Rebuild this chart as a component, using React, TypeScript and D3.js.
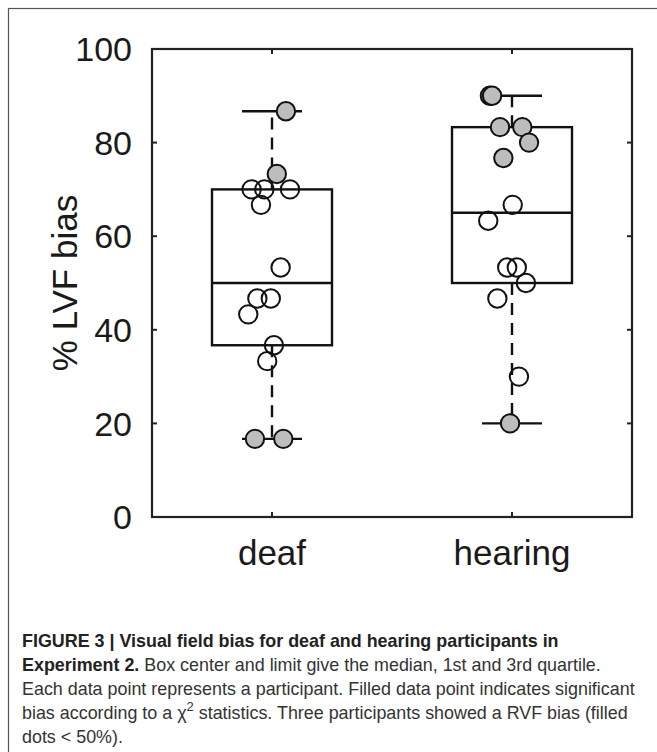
import React from "react";
import * as d3 from "d3";

const categories = ["deaf", "hearing"];
// box stats: [lower whisker, Q1, median, Q3, upper whisker]
const boxStats = [
  [16.7, 36.7, 50, 70, 86.7],
  [20, 50, 65, 83.3, 90],
];
// points: group index, x jitter offset (category units), value, filled (significant)
const pointGroup = [0,0,0,0,0,0,0,0,0,0,0,0,0,0, 1,1,1,1,1,1,1,1,1,1,1,1,1,1];
const pointJitter = [
  0.058, 0.02, -0.085, -0.032, 0.075, -0.046, 0.036, -0.061, -0.005, -0.099, 0.008, -0.02, -0.071, 0.047,
  -0.092, -0.083, -0.05, 0.043, 0.071, -0.036, 0.003, -0.099, -0.02, 0.02, 0.058, -0.061, 0.029, -0.008,
];
const pointValue = [
  86.7, 73.3, 70, 70, 70, 66.7, 53.3, 46.7, 46.7, 43.3, 36.7, 33.3, 16.7, 16.7,
  90, 90, 83.3, 83.3, 80, 76.7, 66.7, 63.3, 53.3, 53.3, 50, 46.7, 30, 20,
];
const pointFilled = [
  1, 1, 0, 0, 0, 0, 0, 0, 0, 0, 0, 0, 1, 1,
  1, 1, 1, 1, 1, 1, 0, 0, 0, 0, 0, 0, 0, 1,
];
const yTicks = [0, 20, 40, 60, 80, 100];
const yLabel = "% LVF bias";

const W = 657, H = 752;
const L = 152, R = 632, T = 49, B = 517;

export default function App() {
  const x = d3.scaleLinear().domain([0.5, 2.5]).range([L, R]);
  const y = d3.scaleLinear().domain([0, 100]).range([B, T]);
  const bw = x(1.25) - x(1);
  const cw = x(1.125) - x(1);
  const axisColor = "#222";
  const font = "'Liberation Sans', Arial, Helvetica, sans-serif";
  const tickLen = 5;
  const capFont = 17.9;
  const capX = 22;
  const capY0 = 647;
  const capDy = 24;

  return (
    <svg width={W} height={H} style={{ position: "absolute", left: 0, top: 0, background: "#fff" }} fontFamily={font}>
      <rect x={0} y={0} width={W} height={H} fill="#fff" />
      <rect x={8.5} y={8.5} width={800} height={900} fill="none" stroke="#555" strokeWidth={1.2} />

      {/* boxes */}
      {boxStats.map((s, i) => {
        const cx = x(i + 1);
        return (
          <g key={"b" + i} stroke="#111" strokeWidth={2.4} fill="none">
            <line x1={cx} x2={cx} y1={y(s[3])} y2={y(s[4])} strokeDasharray="12,8" />
            <line x1={cx} x2={cx} y1={y(s[1])} y2={y(s[0])} strokeDasharray="12,8" />
            <line x1={cx - cw} x2={cx + cw} y1={y(s[4])} y2={y(s[4])} />
            <line x1={cx - cw} x2={cx + cw} y1={y(s[0])} y2={y(s[0])} />
            <rect x={cx - bw} y={y(s[3])} width={2 * bw} height={y(s[1]) - y(s[3])} />
            <line x1={cx - bw} x2={cx + bw} y1={y(s[2])} y2={y(s[2])} />
          </g>
        );
      })}

      {/* points */}
      {pointValue.map((v, i) => (
        <circle
          key={"p" + i}
          cx={x(pointGroup[i] + 1 + pointJitter[i])}
          cy={y(v)}
          r={9.2}
          fill={pointFilled[i] ? "#bdbdbd" : "none"}
          stroke="#111"
          strokeWidth={2}
        />
      ))}

      {/* axes frame */}
      <rect x={L} y={T} width={R - L} height={B - T} fill="none" stroke={axisColor} strokeWidth={2.2} />
      {yTicks.map((t) => (
        <g key={"yt" + t}>
          <line x1={L} x2={L + tickLen} y1={y(t)} y2={y(t)} stroke={axisColor} strokeWidth={2} />
          <line x1={R} x2={R - tickLen} y1={y(t)} y2={y(t)} stroke={axisColor} strokeWidth={2} />
          <text x={L - 20} y={y(t)} dy="0.36em" textAnchor="end" fontSize={34} fill="#1a1a1a">{t}</text>
        </g>
      ))}
      {categories.map((c, i) => (
        <g key={"xt" + c}>
          <line x1={x(i + 1)} x2={x(i + 1)} y1={B} y2={B - tickLen} stroke={axisColor} strokeWidth={2} />
          <line x1={x(i + 1)} x2={x(i + 1)} y1={T} y2={T + tickLen} stroke={axisColor} strokeWidth={2} />
          <text x={x(i + 1)} y={565} textAnchor="middle" fontSize={35} fill="#1a1a1a">{c}</text>
        </g>
      ))}
      <text transform={`translate(77,${(T + B) / 2}) rotate(-90)`} textAnchor="middle" fontSize={35} fill="#1a1a1a">{yLabel}</text>

      {/* caption */}
      <g fontSize={capFont} fill="#333">
        <text x={capX} y={capY0} fontWeight="bold" fill="#222">FIGURE 3 | Visual field bias for deaf and hearing participants in</text>
        <text x={capX} y={capY0 + capDy}>
          <tspan fontWeight="bold" fill="#222">Experiment 2.</tspan> Box center and limit give the median, 1st and 3rd quartile.
        </text>
        <text x={capX} y={capY0 + 2 * capDy}>Each data point represents a participant. Filled data point indicates significant</text>
        <text x={capX} y={capY0 + 3 * capDy}>
          bias according to a χ<tspan dy={-8} fontSize={13}>2</tspan><tspan dy={8}> statistics. Three participants showed a RVF bias (filled</tspan>
        </text>
        <text x={capX} y={capY0 + 4 * capDy}>dots {"<"} 50%).</text>
      </g>
    </svg>
  );
}
